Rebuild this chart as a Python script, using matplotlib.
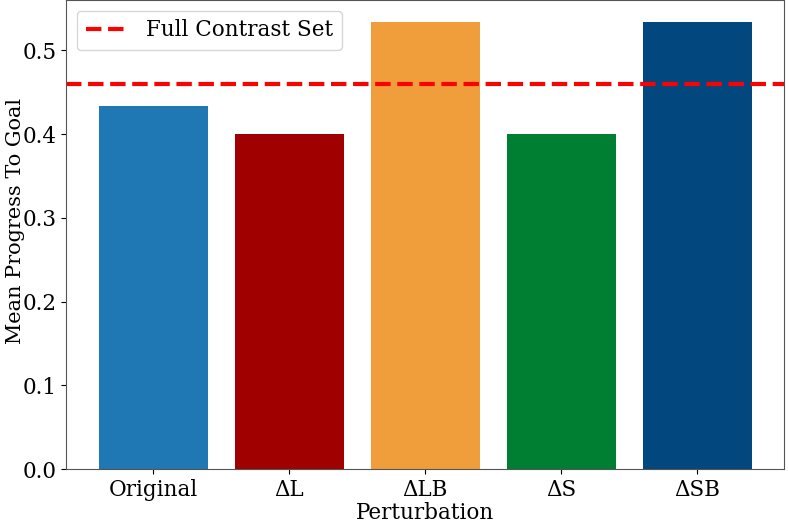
import matplotlib
matplotlib.use("Agg")
import matplotlib.pyplot as plt

categories = ["Original", "ΔL", "ΔLB", "ΔS", "ΔSB"]
values = [0.4333, 0.4, 0.5333, 0.4, 0.5333]
full_contrast = 0.46
colors = ["#1f77b4", "#a00000", "#f09e3c", "#007f32", "#02477d"]

plt.rcParams["font.family"] = "DejaVu Serif"
plt.rcParams["font.size"] = 15.5

fig, ax = plt.subplots(figsize=(7.89, 5.23), dpi=100)
ax.bar(categories, values, color=colors, width=0.8)
ax.axhline(full_contrast, color="red", linestyle="--", linewidth=3, label="Full Contrast Set")
ax.set_xlabel("Perturbation", labelpad=1)
ax.set_ylabel("Mean Progress To Goal", fontsize=15)
ax.yaxis.set_label_coords(-0.057, 0.53)
for s in ax.spines.values():
    s.set_color("#555555")
ax.legend(loc="upper left", fontsize=15.5)
fig.subplots_adjust(left=0.084, right=0.994, top=1.0, bottom=0.103)
fig.savefig("out.png", dpi=100)
